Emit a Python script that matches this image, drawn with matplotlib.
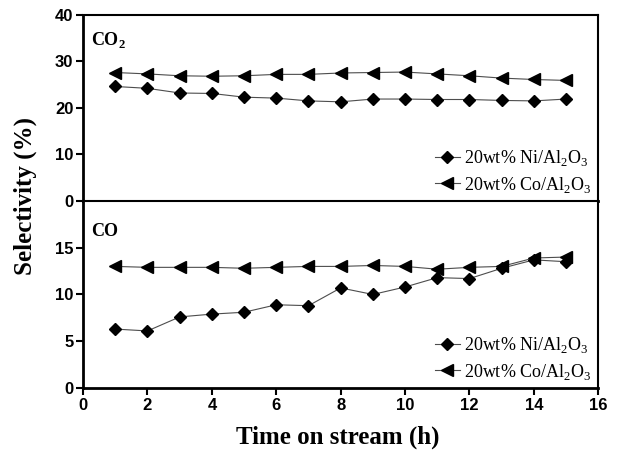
import matplotlib.pyplot as plt
import numpy as np

# time on stream (h)
hours = np.arange(1, 16)

# CO2 selectivity (%)
co2_ni = [24.6, 24.2, 23.2, 23.1, 22.3, 22.1, 21.5, 21.3, 21.9, 21.9, 21.8, 21.8, 21.6, 21.5, 21.9]
co2_co = [27.6, 27.3, 26.9, 26.8, 26.9, 27.2, 27.2, 27.5, 27.6, 27.7, 27.3, 26.9, 26.4, 26.1, 25.9]

# CO selectivity (%)
co_ni = [6.3, 6.1, 7.6, 7.9, 8.1, 8.9, 8.8, 10.7, 10.0, 10.8, 11.8, 11.7, 12.8, 13.7, 13.5]
co_co = [13.0, 12.9, 12.9, 12.9, 12.8, 12.9, 13.0, 13.0, 13.1, 13.0, 12.7, 12.9, 13.0, 13.9, 14.0]

ni_label = r'20wt% Ni/Al$_2$O$_3$'
co_label = r'20wt% Co/Al$_2$O$_3$'

plt.rcParams['mathtext.fontset'] = 'custom'
plt.rcParams['mathtext.rm'] = 'Liberation Serif'
plt.rcParams['mathtext.bf'] = 'Liberation Serif:bold'

fig = plt.figure(figsize=(6.2, 4.63), dpi=100)
ax1 = fig.add_axes([0.134, 0.566, 0.831, 0.402])
ax2 = fig.add_axes([0.134, 0.162, 0.831, 0.404], sharex=ax1)

panels = [
    (ax1, co2_ni, co2_co, 'CO$_\\mathbf{2}$', 0.839, (0, 40), [0, 10, 20, 30, 40]),
    (ax2, co_ni, co_co, 'CO', 0.813, (0, 20), [0, 5, 10, 15]),
]

for ax, ni, co, name, ty, ylim, yt in panels:
    ax.plot(hours, ni, color='0.3', lw=0.8, marker='D', ms=6.5,
            mfc='black', mec='black', label=ni_label)
    ax.plot(hours, co, color='0.3', lw=0.8, marker='<', ms=8.5,
            mfc='black', mec='black', label=co_label)
    ax.set_ylim(*ylim)
    ax.set_yticks(yt)
    ax.set_xlim(0, 16)
    ax.text(0.0155, ty, name, transform=ax.transAxes, ha='left', va='baseline',
            fontsize=13, fontweight='bold', family='Liberation Serif')
    ax.legend(loc='lower right', frameon=False, handlelength=1.4,
              handletextpad=0.25, labelspacing=0.35, borderpad=0.15,
              borderaxespad=0.2,
              prop={'family': 'Liberation Serif', 'size': 13})
    for sp in ['left', 'bottom']:
        ax.spines[sp].set_linewidth(2)
    for sp in ['top', 'right']:
        ax.spines[sp].set_linewidth(1.5)
    ax.tick_params(direction='out', length=5, width=1.5, labelsize=12, pad=2)
    for lab in ax.get_yticklabels():
        lab.set_family('Liberation Sans')
        lab.set_fontweight('bold')

ax1.tick_params(axis='x', bottom=False, labelbottom=False)
ax2.set_xticks(np.arange(0, 17, 2))
for lab in ax2.get_xticklabels():
    lab.set_family('Liberation Sans')
    lab.set_fontweight('bold')

fig.text(0.04, 0.577, 'Selectivity (%)', rotation=90, ha='center', va='center',
         fontsize=18, fontweight='bold', family='Liberation Serif')
fig.text(0.545, 0.055, 'Time on stream (h)', ha='center', va='center',
         fontsize=18, fontweight='bold', family='Liberation Serif')

fig.savefig('out.png', dpi=100)
